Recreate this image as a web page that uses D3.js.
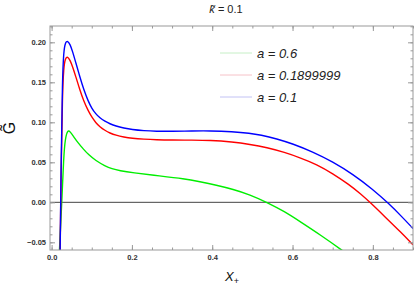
<!DOCTYPE html>
<html><head><meta charset="utf-8">
<script src="https://cdn.jsdelivr.net/npm/d3@7"></script>
<style>body{margin:0;background:#fff}svg{display:block}text{font-family:"Liberation Sans",Arial,sans-serif}</style>
</head><body><svg id="c" width="415" height="285"></svg>
<script>
const xLabel = "X";
const yLabel = "G\u0303";
const xTicks = [0.0, 0.2, 0.4, 0.6, 0.8];
const yTicks = [-0.05, 0.00, 0.05, 0.10, 0.15, 0.20];
const seriesNames = ["a = 0.6", "a = 0.1899999", "a = 0.1"];
const seriesColors = ["#00ee00", "#ff0000", "#0000ff"];
const legendColors = ["#c6efc6", "#f6c2c8", "#c2c2f4"];

const greenX = [0.019,0.0254,0.030,0.034,0.040,0.046,0.055,0.065,0.080,0.091,0.110,0.133,0.150,0.170,0.200,0.270,0.330,0.369,0.410,0.452,0.494,0.536,0.580,0.620,0.670,0.725,0.750];
const greenY = [-0.065,0.000,0.057,0.080,0.0905,0.0885,0.082,0.075,0.066,0.060,0.052,0.0455,0.042,0.0395,0.037,0.033,0.0295,0.0258,0.0215,0.0163,0.0095,0.000,-0.0115,-0.0245,-0.041,-0.0605,-0.070];

const redX = [0.021,0.024,0.027,0.030,0.034,0.040,0.046,0.052,0.060,0.070,0.080,0.091,0.100,0.110,0.120,0.133,0.145,0.160,0.180,0.200,0.230,0.260,0.300,0.350,0.394,0.450,0.494,0.536,0.580,0.620,0.660,0.700,0.740,0.770,0.793,0.830,0.870,0.900];
const redY = [-0.070,0.050,0.135,0.168,0.180,0.1825,0.1775,0.170,0.1575,0.141,0.1265,0.1145,0.1065,0.0995,0.0945,0.0898,0.0866,0.0838,0.0816,0.0801,0.0789,0.0782,0.0778,0.0777,0.0775,0.0755,0.0725,0.0685,0.0625,0.0555,0.0475,0.036,0.0225,0.0105,0.000,-0.018,-0.0375,-0.053];

const blueX = [0.021,0.024,0.027,0.030,0.034,0.040,0.046,0.052,0.060,0.070,0.080,0.091,0.100,0.110,0.120,0.133,0.145,0.160,0.180,0.200,0.230,0.260,0.300,0.350,0.394,0.450,0.494,0.520,0.561,0.600,0.650,0.700,0.750,0.800,0.840,0.870,0.900];
const blueY = [-0.070,0.060,0.155,0.188,0.200,0.202,0.1975,0.189,0.175,0.1575,0.141,0.1265,0.1175,0.1105,0.1055,0.1012,0.0982,0.0953,0.0928,0.091,0.0895,0.0888,0.0887,0.0892,0.0894,0.0884,0.0864,0.0843,0.0794,0.0732,0.0632,0.0507,0.0352,0.0162,-0.0018,-0.0168,-0.0327];

const seriesX = [greenX, redX, blueX];
const seriesY = [greenY, redY, blueY];

const svg = d3.select("#c");
const L = 50, R = 413, T = 26, B = 250;
const x = d3.scaleLinear().domain([-0.004, 0.9]).range([L, R]);
const y = d3.scaleLinear().domain([-0.0596, 0.2204]).range([B, T]);

svg.append("defs").append("clipPath").attr("id","clip")
  .append("rect").attr("x",L).attr("y",T).attr("width",R-L).attr("height",B-T);

// zero line
svg.append("line").attr("x1",L).attr("x2",R).attr("y1",y(0)).attr("y2",y(0))
  .attr("stroke","#444").attr("stroke-width",1);

// curves
const line = d3.line().x(d=>x(d[0])).y(d=>y(d[1])).curve(d3.curveBasis);
const g = svg.append("g").attr("clip-path","url(#clip)");
[0,1,2].forEach(i=>{
  const pts = seriesX[i].map((v,j)=>[v, seriesY[i][j]]);
  g.append("path").attr("d", line(pts)).attr("fill","none")
    .attr("stroke", seriesColors[i]).attr("stroke-width",1.4);
});

// frame
svg.append("rect").attr("x",L).attr("y",T).attr("width",R-L).attr("height",B-T)
  .attr("fill","none").attr("stroke","#999").attr("stroke-width",1);

// axes via d3 axes, inward ticks
const fmtX = d3.format(".1f");
const fmtY = d=>d3.format(".2f")(d).replace("-","\u2212");
const xMinor = d3.range(0, 0.9001, 0.05);
const yMinor = d3.range(-0.05, 0.2201, 0.01);
function addAxis(axisFn, scale, major, minor, transform, fmt, showLabels){
  const gm = svg.append("g").attr("transform",transform)
    .call(axisFn(scale).tickValues(minor).tickSize(-2.5).tickFormat(""));
  gm.select(".domain").remove();
  gm.selectAll("line").attr("stroke","#999");
  const ga = svg.append("g").attr("transform",transform)
    .call(axisFn(scale).tickValues(major).tickSize(-5).tickPadding(showLabels?5:0).tickFormat(showLabels?fmt:""));
  ga.select(".domain").remove();
  ga.selectAll("line").attr("stroke","#999");
  ga.selectAll("text").attr("font-size","7.5px").attr("font-weight","bold").attr("fill","#333")
    .attr("font-family","'Liberation Sans',Arial,sans-serif");
  return ga;
}
addAxis(d3.axisBottom, x, xTicks, xMinor, `translate(0,${B})`, fmtX, true);
addAxis(d3.axisTop, x, xTicks, xMinor, `translate(0,${T})`, fmtX, false);
const yl = addAxis(d3.axisLeft, y, yTicks, yMinor, `translate(${L},0)`, fmtY, true);
yl.selectAll("text").attr("dx","1");
addAxis(d3.axisRight, y, yTicks, yMinor, `translate(${R},0)`, fmtY, false);

// title
svg.append("text").attr("x",226).attr("y",13).attr("text-anchor","middle")
  .attr("font-size","11px").attr("fill","#222")
  .html('<tspan font-style="italic">k\u0303</tspan> = 0.1');

// axis labels
const xt = svg.append("text").attr("x",225).attr("y",281).attr("font-size","13px").attr("fill","#111");
xt.append("tspan").attr("font-style","italic").text(xLabel);
xt.append("tspan").attr("font-size","9px").attr("dy","3").text("+");

svg.append("text").attr("transform","translate(15,128) rotate(-90)").attr("text-anchor","middle")
  .attr("font-size","16px").attr("fill","#111").text(yLabel);

// legend
const legY = [53, 75, 97];
seriesNames.forEach((n,i)=>{
  svg.append("line").attr("x1",220).attr("x2",252).attr("y1",legY[i]).attr("y2",legY[i])
    .attr("stroke",legendColors[i]).attr("stroke-width",1);
  svg.append("text").attr("x",257).attr("y",legY[i]+4.5).attr("font-size","13px")
    .attr("font-style","italic").attr("fill","#222").text(n);
});
</script></body></html>
